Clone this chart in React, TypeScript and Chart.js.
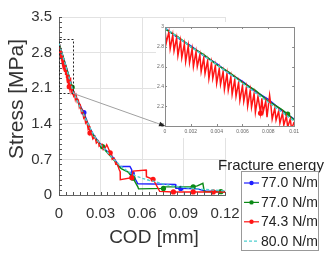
import React, { useEffect, useRef } from "react";
import { Chart, registerables } from "chart.js";
Chart.register(...registerables);

// ---------- data ----------
const seriesLabels = ["77.0 N/m", "77.0 N/m", "74.3 N/m", "80.0 N/m"];
const legendTitle = "Fracture energy";
const xTitle = "COD [mm]";
const yTitle = "Stress [MPa]";

const blueCod = [0, 0.001, 0.002, 0.003, 0.004, 0.005, 0.006, 0.007, 0.008, 0.009, 0.01, 0.012, 0.014, 0.016, 0.018, 0.02, 0.022, 0.024, 0.026, 0.028, 0.03, 0.032, 0.034, 0.036, 0.038, 0.04, 0.042, 0.043, 0.0513, 0.0525, 0.053, 0.057, 0.084, 0.0845, 0.088, 0.1, 0.106, 0.12];
const blueStress = [2.99, 2.89, 2.81, 2.71, 2.63, 2.53, 2.45, 2.35, 2.27, 2.16, 2.07, 1.95, 1.83, 1.72, 1.62, 1.47, 1.33, 1.23, 1.14, 1.07, 1.0, 0.94, 0.88, 0.83, 0.77, 0.71, 0.63, 0.56, 0.56, 0.5, 0.42, 0.22, 0.21, 0.13, 0.13, 0.12, 0.08, 0.07];
const blueMarkers = [0.018, 0.053, 0.088];

const greenCod = [0, 0.001, 0.002, 0.003, 0.004, 0.005, 0.006, 0.007, 0.008, 0.009, 0.0095, 0.01, 0.012, 0.014, 0.016, 0.018, 0.02, 0.022, 0.024, 0.026, 0.028, 0.03, 0.0315, 0.034, 0.036, 0.038, 0.04, 0.042, 0.045, 0.05, 0.0535, 0.057, 0.0575, 0.0755, 0.0765, 0.097, 0.1, 0.104, 0.105, 0.117, 0.12];
const greenStress = [2.98, 2.9, 2.8, 2.72, 2.62, 2.54, 2.44, 2.36, 2.25, 2.17, 2.12, 2.06, 1.94, 1.81, 1.7, 1.58, 1.45, 1.31, 1.21, 1.13, 1.05, 0.99, 0.95, 0.86, 0.8, 0.74, 0.68, 0.6, 0.52, 0.45, 0.33, 0.16, 0.12, 0.13, 0.16, 0.16, 0.18, 0.23, 0.07, 0.065, 0.065];
const greenMarkers = [0.0095, 0.0315, 0.0535, 0.0755, 0.097, 0.117];

const redCod = [0, 0.0001, 0.0003, 0.0004, 0.0006, 0.0007, 0.0009, 0.001, 0.0012, 0.0013, 0.0015, 0.0016, 0.0018, 0.0019, 0.0021, 0.0022, 0.0024, 0.0025, 0.0027, 0.0028, 0.003, 0.0031, 0.0033, 0.0034, 0.0036, 0.0037, 0.0039, 0.004, 0.0042, 0.0043, 0.0045, 0.0046, 0.0048, 0.0049, 0.0051, 0.0052, 0.0054, 0.0055, 0.0057, 0.0058, 0.006, 0.0061, 0.0063, 0.0064, 0.0066, 0.0067, 0.0069, 0.007, 0.0072, 0.0074, 0.0075, 0.0076, 0.0078, 0.0079, 0.0081, 0.0082, 0.0083, 0.0085, 0.0086, 0.0088, 0.0089, 0.0091, 0.0092, 0.0094, 0.0095, 0.0097, 0.0098, 0.01, 0.0105, 0.0112, 0.0118, 0.0125, 0.0132, 0.014, 0.0147, 0.0155, 0.0162, 0.017, 0.0178, 0.0185, 0.0192, 0.02, 0.021, 0.0217, 0.0224, 0.023, 0.0245, 0.026, 0.027, 0.0285, 0.029, 0.031, 0.032, 0.0335, 0.0345, 0.0355, 0.037, 0.038, 0.0385, 0.04, 0.041, 0.042, 0.0435, 0.0442, 0.0443, 0.0526, 0.0535, 0.063, 0.0632, 0.068, 0.0728, 0.0827, 0.097, 0.1115, 0.12];
const redStress = [2.97, 2.84, 2.95, 2.78, 2.92, 2.76, 2.89, 2.71, 2.86, 2.69, 2.83, 2.65, 2.81, 2.64, 2.78, 2.6, 2.75, 2.6, 2.72, 2.55, 2.69, 2.53, 2.66, 2.48, 2.64, 2.48, 2.61, 2.43, 2.58, 2.42, 2.55, 2.37, 2.53, 2.36, 2.5, 2.32, 2.47, 2.3, 2.44, 2.26, 2.41, 2.25, 2.39, 2.2, 2.36, 2.19, 2.33, 2.14, 2.3, 2.13, 2.28, 2.14, 2.25, 2.09, 2.31, 2.21, 2.07, 2.18, 2.06, 2.15, 2.03, 2.13, 2.01, 2.1, 1.99, 2.07, 1.97, 2.04, 1.95, 2.0, 1.88, 1.95, 1.83, 1.86, 1.72, 1.76, 1.62, 1.66, 1.52, 1.56, 1.42, 1.46, 1.3, 1.35, 1.22, 1.26, 1.1, 1.15, 1.02, 1.06, 0.96, 1.0, 0.89, 0.93, 0.99, 0.93, 0.83, 0.79, 0.7, 0.72, 0.61, 0.63, 0.5, 0.46, 0.3, 0.34, 0.47, 0.49, 0.36, 0.31, 0.07, 0.06, 0.06, 0.06, 0.06];
const redMarkers = [0.0074, 0.0224, 0.037, 0.0526, 0.068, 0.0827, 0.097, 0.1115];

const cyanCod = [0, 0.002, 0.004, 0.006, 0.008, 0.01, 0.015, 0.02, 0.025, 0.03, 0.035, 0.04, 0.045, 0.05, 0.055, 0.06, 0.065, 0.07, 0.075, 0.08, 0.09, 0.1, 0.11, 0.12];
const cyanStress = [2.99, 2.8, 2.62, 2.43, 2.24, 2.05, 1.74, 1.45, 1.18, 0.99, 0.84, 0.69, 0.56, 0.46, 0.38, 0.33, 0.29, 0.26, 0.22, 0.19, 0.15, 0.12, 0.1, 0.08];

const mainXTicks = [0, 0.03, 0.06, 0.09, 0.12];
const mainYTicks = [0, 0.7, 1.4, 2.1, 2.8, 3.5];
const insetXTicks = [0, 0.002, 0.004, 0.006, 0.008, 0.01];
const insetYTicks = [2, 2.2, 2.4, 2.6, 2.8, 3];
const zoomBox = { x0: 0, x1: 0.01, y0: 2.0, y1: 3.06 };

// ---------- style / layout ----------
const COLORS = ["#1f1fff", "#0b8a16", "#ff1414", "#4fcfcf"];
const FONT = '"Liberation Sans", Arial, Helvetica, sans-serif';
const INSET = { left: 156, top: 22, width: 146, height: 116 };
const INSET_CORNER = { x: 165, y: 126 };
const arrowStart = { x: 73, y: 93 };

function pts(xs: number[], ys: number[]) {
  return xs.map((x, i) => ({ x, y: ys[i] }));
}

function radii(xs: number[], marks: number[], r: number) {
  return xs.map((x) => (marks.includes(x) ? r : 0));
}

function makeDatasets(lw: number, r: number) {
  return [
    {
      label: seriesLabels[0],
      data: pts(blueCod, blueStress),
      borderColor: COLORS[0],
      backgroundColor: COLORS[0],
      borderWidth: lw,
      pointRadius: radii(blueCod, blueMarkers, r),
      pointBorderWidth: 0,
      order: 3,
    },
    {
      label: seriesLabels[1],
      data: pts(greenCod, greenStress),
      borderColor: COLORS[1],
      backgroundColor: COLORS[1],
      borderWidth: lw,
      pointRadius: radii(greenCod, greenMarkers, r),
      pointBorderWidth: 0,
      order: 2,
    },
    {
      label: seriesLabels[2],
      data: pts(redCod, redStress),
      borderColor: COLORS[2],
      backgroundColor: COLORS[2],
      borderWidth: lw,
      pointRadius: radii(redCod, redMarkers, r),
      pointBorderWidth: 0,
      order: 1,
    },
    {
      label: seriesLabels[3],
      data: pts(cyanCod, cyanStress),
      borderColor: COLORS[3],
      backgroundColor: COLORS[3],
      borderWidth: lw,
      borderDash: [3, 2],
      pointRadius: 0,
      order: 0,
    },
  ];
}

const mainPlugin = {
  id: "mainDecor",
  afterDatasetsDraw(chart: any) {
    const { ctx, chartArea: a, scales } = chart;
    const x = scales.x, y = scales.y;
    ctx.save();
    // minor ticks
    ctx.strokeStyle = "#555";
    ctx.lineWidth = 1;
    ctx.beginPath();
    for (let v = 0; v <= 3.5001; v += 0.1) {
      const py = Math.round(y.getPixelForValue(v)) + 0.5;
      ctx.moveTo(a.left, py);
      ctx.lineTo(a.left + 3, py);
    }
    for (let v = 0; v <= 0.12001; v += 0.005) {
      const px = Math.round(x.getPixelForValue(v)) + 0.5;
      ctx.moveTo(px, a.bottom);
      ctx.lineTo(px, a.bottom - 3);
    }
    ctx.stroke();
    // zoom rectangle
    const rx0 = x.getPixelForValue(zoomBox.x0);
    const rx1 = x.getPixelForValue(zoomBox.x1);
    const ry0 = y.getPixelForValue(zoomBox.y0);
    const ry1 = y.getPixelForValue(zoomBox.y1);
    ctx.setLineDash([2, 2]);
    ctx.strokeStyle = "#222";
    ctx.strokeRect(Math.round(rx0) + 0.5, Math.round(ry1) + 0.5, Math.round(rx1 - rx0), Math.round(ry0 - ry1));
    ctx.setLineDash([]);
    arrowStart.x = rx1;
    arrowStart.y = ry0;
    ctx.strokeStyle = "#a0a0a0";
    ctx.beginPath();
    ctx.moveTo(rx1, ry0);
    ctx.lineTo(INSET_CORNER.x, INSET_CORNER.y);
    ctx.stroke();
    ctx.restore();
  },
  afterDraw(chart: any) {
    const ctx = chart.ctx;
    ctx.save();
    // axis titles
    ctx.fillStyle = "#333";
    ctx.textAlign = "center";
    ctx.textBaseline = "middle";
    ctx.font = `19px ${FONT}`;
    ctx.fillText(xTitle, 154, 238);
    ctx.save();
    ctx.translate(17, 99);
    ctx.rotate(-Math.PI / 2);
    ctx.font = `21px ${FONT}`;
    ctx.fillText(yTitle, 0, 0);
    ctx.restore();
    // legend
    ctx.fillStyle = "#222";
    ctx.textAlign = "left";
    ctx.font = `15px ${FONT}`;
    ctx.fillText(legendTitle, 218, 166);
    ctx.fillStyle = "#fff";
    ctx.fillRect(241.5, 171.5, 77, 79);
    ctx.strokeStyle = "#999";
    ctx.lineWidth = 1;
    ctx.strokeRect(241.5, 171.5, 77, 79);
    ctx.font = `14px ${FONT}`;
    seriesLabels.forEach((lab, i) => {
      const yy = 183 + i * 19.4;
      ctx.strokeStyle = COLORS[i];
      ctx.lineWidth = 1.2;
      ctx.setLineDash(i === 3 ? [3, 2] : []);
      ctx.beginPath();
      ctx.moveTo(244, yy);
      ctx.lineTo(259, yy);
      ctx.stroke();
      ctx.setLineDash([]);
      if (i < 3) {
        ctx.fillStyle = COLORS[i];
        ctx.beginPath();
        ctx.arc(251.5, yy, 2.2, 0, Math.PI * 2);
        ctx.fill();
      }
      ctx.fillStyle = "#222";
      ctx.fillText(lab, 261, yy + 0.5);
    });
    ctx.restore();
  },
};

const insetPlugin = {
  id: "insetDecor",
  afterDraw(chart: any) {
    const { ctx, chartArea: a, scales } = chart;
    const x = scales.x, y = scales.y;
    ctx.save();
    ctx.strokeStyle = "#8a8a8a";
    ctx.lineWidth = 1;
    ctx.strokeRect(Math.round(a.left) + 0.5, Math.round(a.top) + 0.5, Math.round(a.right - a.left), Math.round(a.bottom - a.top));
    ctx.beginPath();
    insetYTicks.forEach((v) => {
      const py = Math.round(y.getPixelForValue(v)) + 0.5;
      ctx.moveTo(a.left, py);
      ctx.lineTo(a.left + 2, py);
      ctx.moveTo(a.right, py);
      ctx.lineTo(a.right - 2, py);
    });
    insetXTicks.forEach((v) => {
      const px = Math.round(x.getPixelForValue(v)) + 0.5;
      ctx.moveTo(px, a.bottom);
      ctx.lineTo(px, a.bottom - 2);
      ctx.moveTo(px, a.top);
      ctx.lineTo(px, a.top + 2);
    });
    ctx.stroke();
    // arrow continuing from main chart
    const sx = arrowStart.x - INSET.left, sy = arrowStart.y - INSET.top;
    const ex = INSET_CORNER.x - INSET.left, ey = INSET_CORNER.y - INSET.top;
    ctx.strokeStyle = "#a0a0a0";
    ctx.beginPath();
    ctx.moveTo(sx, sy);
    ctx.lineTo(ex, ey);
    ctx.stroke();
    const ang = Math.atan2(ey - sy, ex - sx);
    const L = 6, W = 2.5;
    ctx.fillStyle = "#222";
    ctx.beginPath();
    ctx.moveTo(ex, ey);
    ctx.lineTo(ex - L * Math.cos(ang) + W * Math.sin(ang), ey - L * Math.sin(ang) - W * Math.cos(ang));
    ctx.lineTo(ex - L * Math.cos(ang) - W * Math.sin(ang), ey - L * Math.sin(ang) + W * Math.cos(ang));
    ctx.closePath();
    ctx.fill();
    ctx.restore();
  },
};

export default function App() {
  const mainRef = useRef<HTMLCanvasElement>(null);
  const insetRef = useRef<HTMLCanvasElement>(null);

  useEffect(() => {
    Chart.defaults.font.family = FONT;
    const main = new Chart(mainRef.current as HTMLCanvasElement, {
      type: "line",
      data: { datasets: makeDatasets(1.4, 2.6) as any },
      options: {
        animation: false,
        responsive: false,
        devicePixelRatio: 1,
        layout: { padding: { top: 17, right: 107, left: 0, bottom: 0 } },
        plugins: { legend: { display: false }, tooltip: { enabled: false } },
        scales: {
          x: {
            type: "linear",
            min: 0,
            max: 0.12,
            afterBuildTicks: (s: any) => {
              s.ticks = mainXTicks.map((v) => ({ value: v }));
            },
            afterFit: (s: any) => {
              s.height = 62;
            },
            ticks: { callback: (v: any) => String(v), font: { size: 15 }, color: "#333", padding: 10, maxRotation: 0, autoSkip: false },
            grid: { color: "#e2e2e2", drawTicks: false },
            border: { display: true, color: "#666" },
            title: { display: false },
          },
          y: {
            type: "linear",
            min: 0,
            max: 3.5,
            afterBuildTicks: (s: any) => {
              s.ticks = mainYTicks.map((v) => ({ value: v }));
            },
            afterFit: (s: any) => {
              s.width = 59;
            },
            ticks: { callback: (v: any) => String(v), font: { size: 15 }, color: "#333", padding: 7, autoSkip: false },
            grid: { color: "#e2e2e2", drawTicks: false },
            border: { display: true, color: "#666" },
            title: { display: false },
          },
        },
      } as any,
      plugins: [mainPlugin],
    });

    const inset = new Chart(insetRef.current as HTMLCanvasElement, {
      type: "line",
      data: { datasets: makeDatasets(1.5, 2.6) as any },
      options: {
        animation: false,
        responsive: false,
        devicePixelRatio: 1,
        layout: { padding: { top: 5, right: 4, left: 0, bottom: 0 } },
        plugins: { legend: { display: false }, tooltip: { enabled: false } },
        scales: {
          x: {
            type: "linear",
            min: 0,
            max: 0.01,
            afterBuildTicks: (s: any) => {
              s.ticks = insetXTicks.map((v) => ({ value: v }));
            },
            afterFit: (s: any) => {
              s.height = 12;
            },
            ticks: { callback: (v: any) => String(v), font: { size: 5 }, color: "#666", padding: 3, maxRotation: 0, autoSkip: false },
            grid: { display: false, drawTicks: false },
            border: { display: false },
          },
          y: {
            type: "linear",
            min: 2,
            max: 3,
            afterBuildTicks: (s: any) => {
              s.ticks = insetYTicks.map((v) => ({ value: v }));
            },
            afterFit: (s: any) => {
              s.width = 9;
            },
            ticks: { callback: (v: any) => String(v), font: { size: 5 }, color: "#666", padding: 1, autoSkip: false },
            grid: { display: false, drawTicks: false },
            border: { display: false },
          },
        },
      } as any,
      plugins: [insetPlugin],
    });

    return () => {
      inset.destroy();
      main.destroy();
    };
  }, []);

  return (
    <div style={{ position: "fixed", left: 0, top: 0, width: 332, height: 257, background: "#fff" }}>
      <canvas ref={mainRef} width={332} height={257} style={{ position: "absolute", left: 0, top: 0, width: 332, height: 257 }} />
      <canvas
        ref={insetRef}
        width={INSET.width}
        height={INSET.height}
        style={{ position: "absolute", left: INSET.left, top: INSET.top, width: INSET.width, height: INSET.height, background: "#fff" }}
      />
    </div>
  );
}
